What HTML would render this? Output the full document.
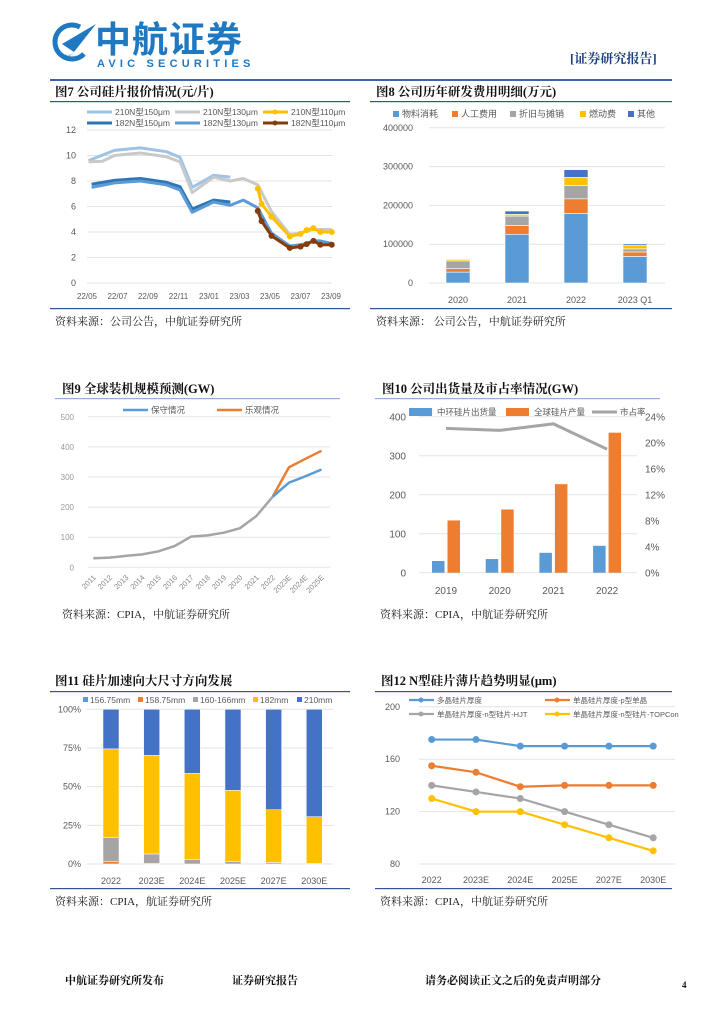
<!DOCTYPE html>
<html><head><meta charset="utf-8">
<style>
html,body{margin:0;padding:0;background:#fff;}
svg{display:block;}
text{font-family:"Liberation Sans","Noto Sans CJK SC",sans-serif;}
.t{font-family:"Liberation Serif","Noto Serif CJK SC",serif;font-weight:bold;font-size:12.5px;fill:#111;}
.ax{font-size:9px;fill:#595959;}
.lg{font-size:8.5px;fill:#595959;}
.src{font-family:"Liberation Serif","Noto Serif CJK SC",serif;font-size:11px;fill:#222;}
.ft{font-family:"Liberation Serif","Noto Serif CJK SC",serif;font-weight:bold;font-size:11px;fill:#111;}
</style></head>
<body>
<svg id="pg" width="724" height="1024" viewBox="0 0 724 1024" xmlns="http://www.w3.org/2000/svg">
<g>
  <g>
    <path d="M80 27 A17 17 0 1 0 84 54" fill="none" stroke="#1e78c2" stroke-width="5"/>
    <path d="M62 44 L96 24 L74 52 Z" fill="#1e78c2"/>
    <text x="64" y="57" style="font-size:4px;fill:#1e78c2">AVIC</text>
  </g>
  <text x="95" y="52" style="font-size:36px;font-weight:bold;fill:#1e78c2;letter-spacing:1px">中航证券</text>
  <text x="97" y="67" style="font-size:11px;font-weight:bold;fill:#1e78c2;letter-spacing:4.2px">AVIC SECURITIES</text>
  <text x="570" y="63" style="font-family:'Liberation Serif','Noto Serif CJK SC',serif;font-weight:bold;font-size:13px;fill:#1a3f7a">[证券研究报告]</text>
  <rect x="50" y="79" width="622" height="2" fill="#3b64b0"/>
</g>

<text class="t" x="55" y="96">图7  公司硅片报价情况(元/片)</text>
<rect x="50" y="101" width="300" height="1.2" fill="#2f5597"/>
<rect x="50" y="308" width="300" height="1.2" fill="#2f5597"/>
<text class="src" x="55" y="325">资料来源：公司公告，中航证券研究所</text>

<text class="t" x="376" y="96">图8  公司历年研发费用明细(万元)</text>
<rect x="370" y="101" width="302" height="1.2" fill="#2f5597"/>
<rect x="370" y="308" width="302" height="1.2" fill="#2f5597"/>
<text class="src" x="376" y="325">资料来源： 公司公告，中航证券研究所</text>

<text class="t" x="62" y="393">图9  全球装机规模预测(GW)</text>
<rect x="55" y="398" width="285" height="1.2" fill="#8fb0d8"/>
<text class="src" x="62" y="618">资料来源：CPIA，中航证券研究所</text>

<text class="t" x="382" y="393">图10  公司出货量及市占率情况(GW)</text>
<rect x="375" y="398" width="285" height="1.2" fill="#8fb0d8"/>
<text class="src" x="380" y="618">资料来源：CPIA，中航证券研究所</text>

<text class="t" x="55" y="685">图11  硅片加速向大尺寸方向发展</text>
<rect x="50" y="691" width="300" height="1.2" fill="#2f5597"/>
<rect x="50" y="888" width="300" height="1.2" fill="#2f5597"/>
<text class="src" x="55" y="905">资料来源：CPIA，航证券研究所</text>

<text class="t" x="381" y="685">图12  N型硅片薄片趋势明显(μm)</text>
<rect x="375" y="691" width="297" height="1.2" fill="#2f5597"/>
<rect x="375" y="888" width="297" height="1.2" fill="#2f5597"/>
<text class="src" x="380" y="905">资料来源：CPIA，中航证券研究所</text>

<g>
<text class="ft" x="65" y="984">中航证券研究所发布</text>
<text class="ft" x="232" y="984">证券研究报告</text>
<text class="ft" x="425" y="984">请务必阅读正文之后的免责声明部分</text>
<text class="ft" x="682" y="988" style="font-size:9px">4</text>
</g>
<g id="charts"></g>
</svg>
<script>
const c7Ticks = ['22/05','22/07','22/09','22/11','23/01','23/03','23/05','23/07','23/09'];
const c7YTicks = [0,2,4,6,8,10,12];
const c7LbM = [0.1,1.8,3.5,5.2,6.1,6.9,8.3,9.4];
const c7LbV = [9.6,10.4,10.6,10.3,9.85,7.5,8.45,8.3];
const c7GrM = [0.1,1.0,1.8,3.5,5.2,6.1,6.9,8.3,9.4,10.25,11.2,12.1,13.3,14.0,14.4,14.85,15.3,16.05];
const c7GrV = [9.5,9.55,10.0,10.2,9.9,9.5,7.1,8.3,8.0,8.2,7.7,5.6,3.8,3.9,4.1,4.2,4.2,4.2];
const c7DbM = [0.3,1.8,3.5,5.2,6.1,6.9,8.3,9.4];
const c7DbV = [7.75,8.05,8.2,7.9,7.55,5.8,6.5,6.35];
const c7MbM = [0.3,1.8,3.5,5.2,6.1,6.9,8.3,9.4,10.25,11.2,12.1,13.3,14.0,14.4,14.85,15.3,16.05];
const c7MbV = [7.5,7.85,8.0,7.7,7.3,5.55,6.35,6.1,6.5,5.9,3.9,2.9,3.0,3.1,3.3,3.3,3.1];
const c7YeM = [11.2,11.45,12.1,13.3,14.0,14.4,14.85,15.3,16.05];
const c7YeV = [7.4,6.2,5.2,3.65,3.85,4.15,4.3,4.0,4.0];
const c7BrM = [11.2,11.45,12.1,13.3,14.0,14.4,14.85,15.3,16.05];
const c7BrV = [5.65,4.85,3.7,2.75,2.85,3.05,3.3,3.0,3.0];
const c8Cats = ['2020','2021','2022','2023 Q1'];
const c8Names = ['物料消耗','人工费用','折旧与摊销','燃动费','其他'];
const c8Material = [28000,125600,179500,68400];
const c8Labor = [9000,22400,37500,11600];
const c8Depr = [20000,24600,34000,8000];
const c8Energy = [4000,4400,21000,9400];
const c8Other = [1500,8500,20000,3500];
const c8YTicks = [0,100000,200000,300000,400000];
const c9Cats = ['2011','2012','2013','2014','2015','2016','2017','2018','2019','2020','2021','2022','2023E','2024E','2025E'];
const c9Hist = [30,32,38,43,53,71,102,106,115,130,170,234];
const c9Cons = [234,281,302,325];
const c9Opt = [234,332,360,387];
const c9YTicks = [0,100,200,300,400,500];
const c10Cats = ['2019','2020','2021','2022'];
const c10Zh = [30,35,51,69];
const c10Global = [134,162,227,359];
const c10Share = [22.2,21.9,22.9,19.0];
const c10YTicks = [0,100,200,300,400];
const c10RTicks = [0,4,8,12,16,20,24];
const c11Cats = ['2022','2023E','2024E','2025E','2027E','2030E'];
const c11Names = ['156.75mm','158.75mm','160-166mm','182mm','210mm'];
const c11S156 = [0,0,0,0,0,0];
const c11S158 = [1.5,0.5,0,0,0,0];
const c11S160 = [15.5,6,3,1.7,1,0.5];
const c11S182 = [57.4,63.8,55.6,45.9,34.1,30.1];
const c11S210 = [25.6,29.7,41.4,52.4,64.9,69.4];
const c11YTicks = [0,25,50,75,100];
const c12Cats = ['2022','2023E','2024E','2025E','2027E','2030E'];
const c12Poly = [175,175,170,170,170,170];
const c12P = [155,150,139,140,140,140];
const c12HJT = [140,135,130,120,110,100];
const c12TOP = [130,120,120,110,100,90];
const c12YTicks = [80,120,160,200];

const NS='http://www.w3.org/2000/svg';
const root=document.getElementById('charts');
function mk(p,tag,a){const e=document.createElementNS(NS,tag);for(const k in a)e.setAttribute(k,a[k]);p.appendChild(e);return e;}
function txt(p,x,y,s,cls,anchor){const e=mk(p,'text',{x:x,y:y,class:cls,'text-anchor':anchor||'start'});e.textContent=s;return e;}
const BLUE='#5b9bd5',ORANGE='#ed7d31',GRAY='#a5a5a5',YEL='#ffc000',DBLUE='#4472c4';

(function(){
const g=mk(root,'g',{});


const x=m=>87+m*15.25, y=v=>283-v*12.75;
c7YTicks.forEach(v=>{
 const l=mk(g,'line',{x1:87,x2:332,y1:y(v),y2:y(v),stroke:'#e3e3e3','stroke-width':1});
 
 
 const t=txt(g,76,y(v)+3,String(v),'ax','end');
 
 
});
c7Ticks.forEach((s,i)=>{
 const t=txt(g,x(i*2),299,s,'ax','middle');t.setAttribute('style','font-size:8px');
 
 
});
const ser=[[c7LbM,c7LbV,'#9dc3e6',0],[c7GrM,c7GrV,'#c9c9c9',0],[c7DbM,c7DbV,'#2e75b6',0],[c7MbM,c7MbV,BLUE,0],[c7YeM,c7YeV,YEL,1],[c7BrM,c7BrV,'#843c0c',1]];
ser.forEach(s=>{
 const p=mk(g,'polyline',{points:s[0].map((m,i)=>x(m)+','+y(s[1][i])).join(' '),fill:'none',stroke:s[2],'stroke-width':3,'stroke-linejoin':'round'});
 
 
 if(s[3]) s[0].forEach((m,i)=>{
  const c=mk(g,'circle',{cx:x(m),cy:y(s[1][i]),r:3,fill:s[2]});
  
  
 });
});
const lg=[[87,112,'#9dc3e6','210N型150μm',0],[175,112,'#c9c9c9','210N型130μm',0],[263,112,YEL,'210N型110μm',1],[87,123,'#2e75b6','182N型150μm',0],[175,123,BLUE,'182N型130μm',0],[263,123,'#843c0c','182N型110μm',1]];
lg.forEach(L=>{
 const e=mk(g,'g',{});
 
 
 mk(e,'line',{x1:L[0],x2:L[0]+25,y1:L[1],y2:L[1],stroke:L[2],'stroke-width':3});
 if(L[4]) mk(e,'circle',{cx:L[0]+12,cy:L[1],r:2.5,fill:L[2]});
 txt(e,L[0]+28,L[1]+3,L[3],'lg');
});
})();

(function(){
const g=mk(root,'g',{});


const y=v=>283-v*0.000388, x=i=>458+i*59;
c8YTicks.forEach(v=>{
 const l=mk(g,'line',{x1:429,x2:665,y1:y(v),y2:y(v),stroke:'#e3e3e3'});
 
 
 const t=txt(g,413,y(v)+3,String(v),'ax','end');
 
 
});
const series=[c8Material,c8Labor,c8Depr,c8Energy,c8Other];
const cols=[BLUE,ORANGE,GRAY,YEL,DBLUE];
c8Cats.forEach((c,i)=>{
 let acc=0;
 series.forEach((s,k)=>{
  const r=mk(g,'rect',{x:x(i)-12,y:y(acc+s[i]),width:24,height:y(acc)-y(acc+s[i]),fill:cols[k],stroke:'#fff','stroke-width':0.6});
  
  
  acc+=s[i];
 });
 const t=txt(g,x(i),303,c,'ax','middle');
 
 
});
const lx=[393,452,510,580,628];
c8Names.forEach((n,k)=>{
 const e=mk(g,'g',{});
 
 
 mk(e,'rect',{x:lx[k],y:111,width:6,height:6,fill:cols[k]});
 txt(e,lx[k]+9,117,n,'ax');
});
})();

(function(){
const g=mk(root,'g',{});


const y=v=>567.3-v*0.301, x=i=>93.3+i*16.3;
c9YTicks.forEach(v=>{
 const l=mk(g,'line',{x1:88,x2:330,y1:y(v),y2:y(v),stroke:'#e3e3e3'});
 
 
 const t=txt(g,74,y(v)+3,String(v),'ax','end');t.setAttribute('style','font-size:8px;fill:#999');
 
 
});
c9Cats.forEach((c,i)=>{
 const t=txt(g,x(i)+3,578,c,'ax','end');
 t.setAttribute('transform','rotate(-45 '+(x(i)+3)+' 578)');t.setAttribute('style','font-size:7.5px;fill:#888');
 
 
});
const o=mk(g,'polyline',{points:c9Opt.map((v,i)=>x(11+i)+','+y(v)).join(' '),fill:'none',stroke:ORANGE,'stroke-width':2.5});


const c=mk(g,'polyline',{points:c9Cons.map((v,i)=>x(11+i)+','+y(v)).join(' '),fill:'none',stroke:BLUE,'stroke-width':2.5});


const h=mk(g,'polyline',{points:c9Hist.map((v,i)=>x(i)+','+y(v)).join(' '),fill:'none',stroke:GRAY,'stroke-width':2.5});


[[123,BLUE,'保守情况'],[217,ORANGE,'乐观情况']].forEach(L=>{
 const e=mk(g,'g',{});
 
 
 mk(e,'line',{x1:L[0],x2:L[0]+25,y1:410,y2:410,stroke:L[1],'stroke-width':2.5});
 txt(e,L[0]+28,413,L[2],'lg');
});
})();

(function(){
const g=mk(root,'g',{});


const y=v=>572.7-v*0.39, yr=p=>572.7-p*6.5, x=i=>446+i*53.7;
c10YTicks.forEach(v=>{
 const l=mk(g,'line',{x1:419,x2:637,y1:y(v),y2:y(v),stroke:'#e3e3e3'});
 
 
 const t=txt(g,406,y(v)+4,String(v),'ax','end');t.setAttribute('style','font-size:10px');
 
 
});
c10RTicks.forEach(p=>{
 const t=txt(g,645,yr(p)+4,p+'%','ax');t.setAttribute('style','font-size:10px');
 
 
});
c10Cats.forEach((c,i)=>{
 const b=mk(g,'rect',{x:x(i)-14,y:y(c10Zh[i]),width:12.5,height:y(0)-y(c10Zh[i]),fill:BLUE});
 
 
 const o=mk(g,'rect',{x:x(i)+1.5,y:y(c10Global[i]),width:12.5,height:y(0)-y(c10Global[i]),fill:ORANGE});
 
 
 const t=txt(g,x(i),594,c,'ax','middle');t.setAttribute('style','font-size:10px');
 
 
});
const l=mk(g,'polyline',{points:c10Share.map((p,i)=>x(i)+','+yr(p)).join(' '),fill:'none',stroke:GRAY,'stroke-width':3});


[[409,BLUE,'中环硅片出货量',0],[506,ORANGE,'全球硅片产量',0],[592,GRAY,'市占率',1]].forEach(L=>{
 const e=mk(g,'g',{});
 
 
 if(L[3]) mk(e,'line',{x1:L[0],x2:L[0]+25,y1:412,y2:412,stroke:L[1],'stroke-width':3});
 else mk(e,'rect',{x:L[0],y:408,width:23,height:8,fill:L[1]});
 txt(e,L[0]+28,415,L[2],'lg');
});
})();

(function(){
const g=mk(root,'g',{});


const y=p=>864-p*1.547, x=i=>111+i*40.66;
c11YTicks.forEach(v=>{
 const l=mk(g,'line',{x1:87,x2:333,y1:y(v),y2:y(v),stroke:'#e3e3e3'});
 
 
 const t=txt(g,81,y(v)+3,v+'%','ax','end');
 
 
});
const series=[c11S156,c11S158,c11S160,c11S182,c11S210];
const cols=[BLUE,ORANGE,GRAY,YEL,DBLUE];
c11Cats.forEach((c,i)=>{
 let acc=0;
 series.forEach((s,k)=>{
  if(s[i]<=0) return;
  const r=mk(g,'rect',{x:x(i)-8,y:y(acc+s[i]),width:16,height:y(acc)-y(acc+s[i]),fill:cols[k],stroke:'#fff','stroke-width':0.5});
  
  
  acc+=s[i];
 });
 const t=txt(g,x(i),884,c,'ax','middle');
 
 
});
const lx=[83,138,193,253,297];
c11Names.forEach((n,k)=>{
 const e=mk(g,'g',{});
 
 
 mk(e,'rect',{x:lx[k],y:697,width:5,height:5,fill:cols[k]});
 txt(e,lx[k]+7,703,n,'lg');
});
})();

(function(){
const g=mk(root,'g',{});


const y=v=>864-(v-80)*1.31, x=i=>431.7+i*44.3;
c12YTicks.forEach(v=>{
 const l=mk(g,'line',{x1:419,x2:675,y1:y(v),y2:y(v),stroke:'#e3e3e3'});
 
 
 const t=txt(g,400,y(v)+3,String(v),'ax','end');
 
 
});
c12Cats.forEach((c,i)=>{
 const t=txt(g,x(i),883,c,'ax','middle');
 
 
});
[[c12Poly,BLUE],[c12P,ORANGE],[c12HJT,GRAY],[c12TOP,YEL]].forEach(s=>{
 const p=mk(g,'polyline',{points:s[0].map((v,i)=>x(i)+','+y(v)).join(' '),fill:'none',stroke:s[1],'stroke-width':2.2});
 
 
 s[0].forEach((v,i)=>{
  const c=mk(g,'circle',{cx:x(i),cy:y(v),r:3.5,fill:s[1]});
  
  
 });
});
[[409,700,BLUE,'多晶硅片厚度'],[545,700,ORANGE,'单晶硅片厚度-p型单晶'],[409,714,GRAY,'单晶硅片厚度-n型硅片-HJT'],[545,714,YEL,'单晶硅片厚度-n型硅片-TOPCon']].forEach(L=>{
 const e=mk(g,'g',{});
 
 
 mk(e,'line',{x1:L[0],x2:L[0]+25,y1:L[1],y2:L[1],stroke:L[2],'stroke-width':2.2});
 mk(e,'circle',{cx:L[0]+12,cy:L[1],r:2.5,fill:L[2]});
 const t=txt(e,L[0]+28,L[1]+3,L[3],'lg');t.setAttribute('style','font-size:7.5px');
});
})();
</script>
</body></html>
